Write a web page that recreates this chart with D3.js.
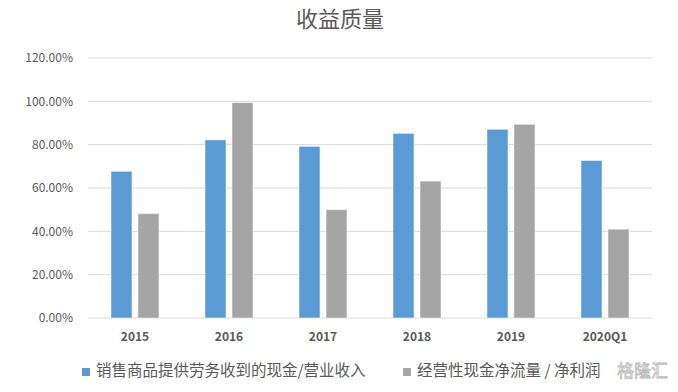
<!DOCTYPE html>
<html>
<head>
<meta charset="utf-8">
<script src="https://cdn.jsdelivr.net/npm/d3@7"></script>
<style>
  body { margin: 0; background: #fff; }
  text { font-family: "Noto Sans CJK SC", "Open Sans", sans-serif; }
</style>
</head>
<body>
<svg class="bar-chart"></svg>
<script>
const width = 678;
const height = 392;

const categories = ['2015', '2016', '2017', '2018', '2019', '2020Q1'];
const cashToRevenue = [67.7, 82.2, 79.2, 85.2, 87.1, 72.7];
const cashFlowToProfit = [48.2, 99.4, 50.0, 63.2, 89.4, 41.0];
const yTicks = [0, 20, 40, 60, 80, 100, 120];
const seriesNames = ['销售商品提供劳务收到的现金/营业收入', '经营性现金净流量 / 净利润'];
const colors = ['#5B9BD5', '#A5A5A5'];

const margin = {left: 88, right: 26, top: 58, bottom: 74};

const svg = d3.select('.bar-chart')
    .attr('width', width)
    .attr('height', height);

// Title
svg.append('text')
    .attr('x', 340)
    .attr('y', 27)
    .attr('text-anchor', 'middle')
    .attr('font-size', 22)
    .attr('fill', '#595959')
    .text('收益质量');

// Scales
const xScale = d3.scaleBand()
    .domain(categories)
    .range([margin.left, width - margin.right]);

const yScale = d3.scaleLinear()
    .domain([0, 120])
    .range([height - margin.bottom, margin.top]);

// Gridlines
svg.append('g')
    .selectAll('line')
    .data(yTicks).enter().append('line')
    .attr('x1', margin.left)
    .attr('x2', width - margin.right)
    .attr('y1', d => yScale(d))
    .attr('y2', d => yScale(d))
    .attr('stroke', '#D9D9D9')
    .attr('stroke-width', 1);

// Y axis
const yAxis = d3.axisLeft(yScale)
    .tickValues(yTicks)
    .tickFormat(d => d.toFixed(2) + '%')
    .tickSize(0)
    .tickPadding(15);

svg.append('g')
    .attr('transform', `translate(${margin.left},0)`)
    .call(yAxis)
    .call(g => g.select('.domain').remove())
    .call(g => g.selectAll('text')
        .attr('font-size', 12)
        .attr('fill', '#595959')
        .attr('font-family', '"Open Sans", sans-serif'));

// X axis
const xAxis = d3.axisBottom(xScale).tickSize(0).tickPadding(14);

svg.append('g')
    .attr('transform', `translate(0,${height - margin.bottom})`)
    .call(xAxis)
    .call(g => g.select('.domain').remove())
    .call(g => g.selectAll('text')
        .attr('font-size', 12)
        .attr('font-weight', 600)
        .attr('fill', '#595959')
        .attr('font-family', '"Open Sans", sans-serif'));

// Bars
const barW = 21;
const gap = 6;
const series = [cashToRevenue, cashFlowToProfit];

series.forEach((values, s) => {
    svg.append('g')
        .selectAll('rect')
        .data(values).enter().append('rect')
        .attr('x', (d, i) => xScale(categories[i]) + xScale.bandwidth() / 2
            + (s === 0 ? -(barW + gap / 2) : gap / 2))
        .attr('y', d => yScale(d))
        .attr('width', barW)
        .attr('height', d => yScale(0) - yScale(d))
        .attr('fill', colors[s])
        .attr('stroke', '#ffffff')
        .attr('stroke-opacity', 0.5)
        .attr('stroke-width', 1);
});

// Legend
const legendX = [82, 403];
seriesNames.forEach((name, s) => {
    const g = svg.append('g')
        .attr('transform', `translate(${legendX[s]},372)`);
    g.append('rect')
        .attr('x', 0)
        .attr('y', -4)
        .attr('width', 8)
        .attr('height', 8)
        .attr('fill', colors[s]);
    g.append('text')
        .attr('x', 14)
        .attr('y', 0)
        .attr('dominant-baseline', 'middle')
        .attr('font-size', 15.5)
        .attr('fill', '#595959')
        .text(name);
});

// Watermark
svg.append('text')
    .attr('x', 668)
    .attr('y', 372)
    .attr('text-anchor', 'end')
    .attr('dominant-baseline', 'middle')
    .attr('font-size', 17)
    .attr('fill', '#ffffff')
    .attr('stroke', '#bbbbbb')
    .attr('stroke-width', 0.8)
    .text('格隆汇');
</script>
</body>
</html>
